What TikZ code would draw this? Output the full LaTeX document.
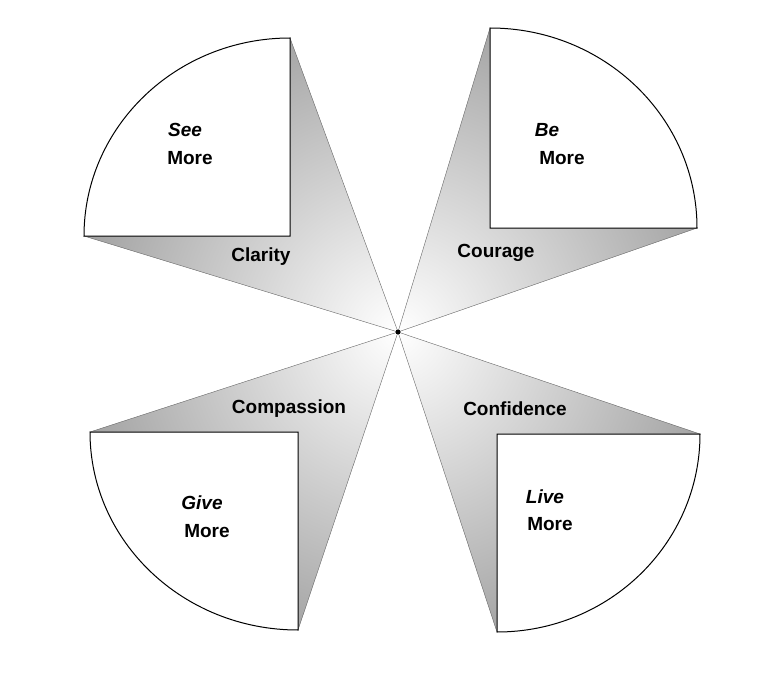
\documentclass[tikz,border=0pt]{standalone}
\usepackage{fontspec}
\setmainfont{Liberation Sans}
\begin{document}
\begin{tikzpicture}[x=1pt,y=1pt,
  lbl/.style={font=\bfseries\fontsize{19}{21}\selectfont, inner sep=0pt},
  ilbl/.style={font=\bfseries\itshape\fontsize{19}{21}\selectfont, inner sep=0pt},
  pane/.style={fill=white, draw=black, line width=1pt}]
\useasboundingbox[fill=white] (0,0) rectangle (782,-698);
\coordinate (c) at (398,-332);
% wedges
\foreach \a/\b in {{(290,-38)}/{(84,-236)}, {(490,-28)}/{(697,-228)}, {(90,-432)}/{(298,-630)}, {(700,-434)}/{(497,-632)}}{
  \begin{scope}
    \clip (c) -- \a -- \b -- cycle;
    \shade[inner color=white, outer color=black!72] (c) circle (640);
  \end{scope}
  \draw[black!60, line width=0.4pt] (c) -- \a -- \b -- cycle;
}
% panes
\draw[pane] (290,-236) -- (84,-236) arc[start angle=180, end angle=90, x radius=206, y radius=198] -- cycle;
\draw[pane] (490,-228) -- (490,-28) arc[start angle=90, end angle=0, x radius=207, y radius=200] -- cycle;
\draw[pane] (298,-432) -- (90,-432) arc[start angle=180, end angle=270, x radius=208, y radius=198] -- cycle;
\draw[pane] (497,-434) -- (700,-434) arc[start angle=0, end angle=-90, x radius=203, y radius=198] -- cycle;
\fill (c) circle (2.5);
% labels
\node[ilbl] (see) at (185,-130) {See};
\node[lbl] (m1) at (190,-158) {More};
\node[ilbl] (be) at (547,-130) {Be};
\node[lbl] (m2) at (562,-158) {More};
\node[ilbl] (give) at (202,-503) {Give};
\node[lbl] (m3) at (207,-531) {More};
\node[ilbl] (live) at (545,-497) {Live};
\node[lbl] (m4) at (550,-524) {More};
\node[lbl] (clarity) at (261,-257) {Clarity};
\node[lbl] (courage) at (496,-253) {Courage};
\node[lbl] (comp) at (289,-409) {Compassion};
\node[lbl] (conf) at (515,-409) {Confidence};
\end{tikzpicture}
\end{document}
